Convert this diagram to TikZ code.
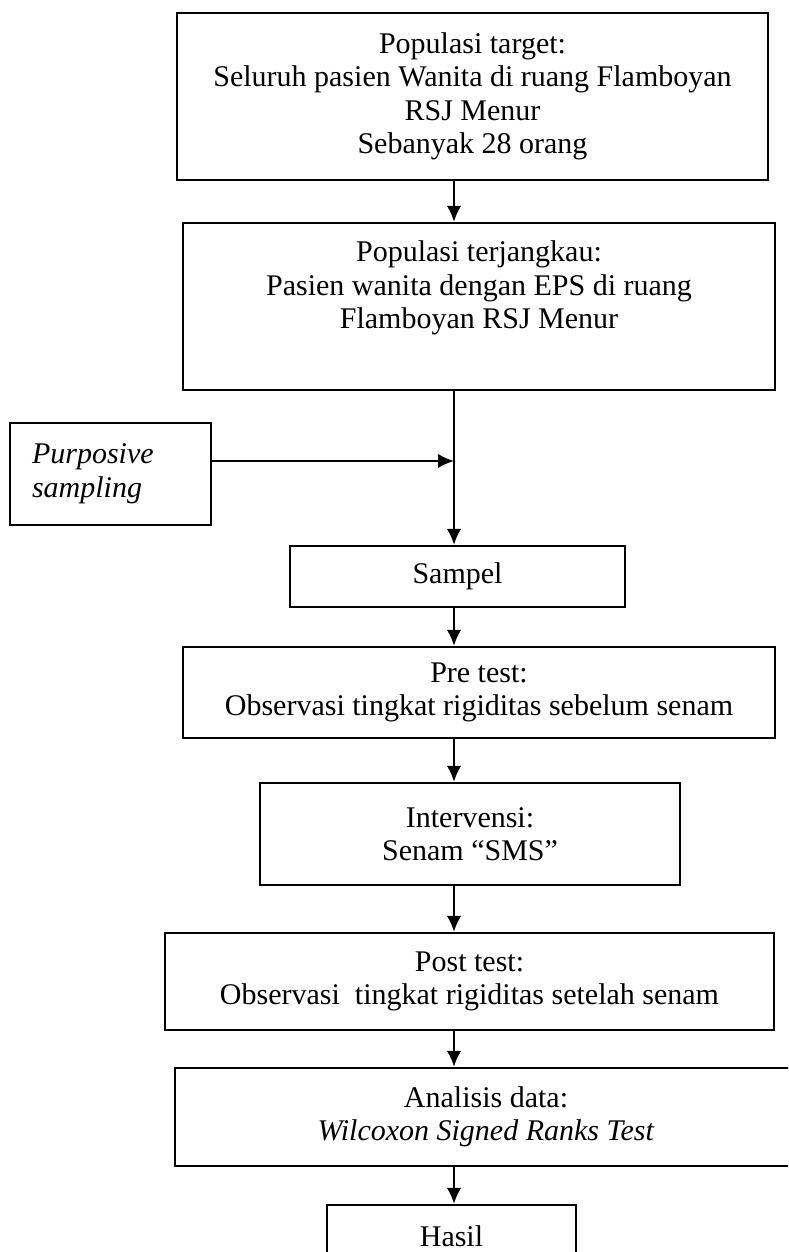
\documentclass[tikz,border=0pt]{standalone}
\usepackage{fontspec}
\setmainfont{Liberation Serif}
\usetikzlibrary{arrows.meta}

\begin{document}
\begin{tikzpicture}[x=0.4pt,y=-0.4pt]
      \tikzset{BoxStyle/.style = {draw, line width=0.9pt, rectangle, align=center,
                                  inner sep=0pt, font=\fontsize{12}{13.4}\selectfont}}
      \tikzset{EdgeStyle/.style = {line width=0.9pt, -{Latex[length=6.4pt,width=5.8pt]}}}
      \clip (0,0) rectangle (788,1252);

      % Boxes
      \node[BoxStyle, minimum width=236.4pt, minimum height=66.8pt] (pop) at (472.5,96.5)
            {Populasi target:\\ Seluruh pasien Wanita di ruang Flamboyan\\ RSJ Menur\\ Sebanyak 28 orang};
      \node[BoxStyle, minimum width=236.8pt, minimum height=66.8pt] (ter) at (479,306.5) {};
      \node[BoxStyle, draw=none, anchor=north] (terText) at (479,240)
            {Populasi terjangkau:\\ Pasien wanita dengan EPS di ruang\\ Flamboyan RSJ Menur};
      \node[BoxStyle, align=left, inner xsep=8.8pt, text width=62.8pt, minimum height=40.8pt] (purp) at (110.5,474)
            {\textit{Purposive}\\ \textit{sampling}};
      \node[BoxStyle, minimum width=134pt, minimum height=24.4pt] (samp) at (457.5,576.5) {Sampel};
      \node[BoxStyle, minimum width=236.8pt, minimum height=36.4pt] (pre) at (479,692.5)
            {Pre test:\\ Observasi tingkat rigiditas sebelum senam};
      \node[BoxStyle, minimum width=168pt, minimum height=40.8pt] (int) at (470,834)
            {Intervensi:\\ Senam “SMS”};
      \node[BoxStyle, minimum width=243.6pt, minimum height=38.8pt] (post) at (469.5,981.5)
            {Post test:\\ Observasi\ \ tingkat rigiditas setelah senam};
      \node[BoxStyle, minimum width=248.8pt, minimum height=39.2pt] (ana) at (486,1117)
            {Analisis data:\\ \textit{Wilcoxon Signed Ranks Test}};
      \node[BoxStyle, minimum width=99.6pt, minimum height=24.8pt] (hasil) at (451.5,1236) {Hasil};

      % Edges
      \coordinate (spine) at (454,0);
      \coordinate (join) at (454,461);
      \draw[EdgeStyle] (spine |- pop.south) -- (spine |- ter.north);
      \draw[EdgeStyle] (spine |- ter.south) -- (spine |- samp.north);
      \draw[EdgeStyle] (purp.east |- join) -- (join);
      \draw[EdgeStyle] (spine |- samp.south) -- (spine |- pre.north);
      \draw[EdgeStyle] (spine |- pre.south) -- (spine |- int.north);
      \draw[EdgeStyle] (spine |- int.south) -- (spine |- post.north);
      \draw[EdgeStyle] (spine |- post.south) -- (spine |- ana.north);
      \draw[EdgeStyle] (spine |- ana.south) -- (spine |- hasil.north);
\end{tikzpicture}
\end{document}
